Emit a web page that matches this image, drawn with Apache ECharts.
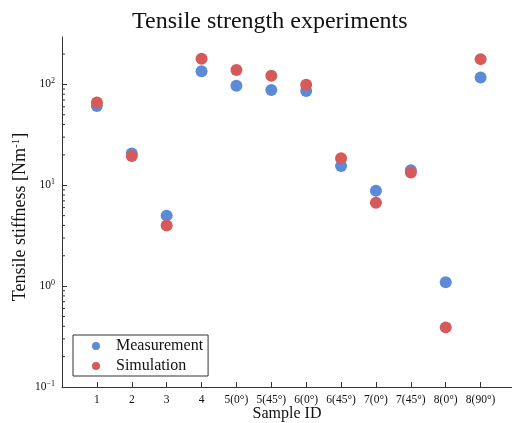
<!DOCTYPE html>
<html>
<head>
<meta charset="utf-8">
<script src="https://cdn.jsdelivr.net/npm/echarts@6/dist/echarts.min.js"></script>
<style>html,body{margin:0;padding:0;background:#fff}#chart{width:512px;height:423px}</style>
</head>
<body>
<div id="chart"></div>
<script>
const samples = ['1', '2', '3', '4', '5(0°)', '5(45°)', '6(0°)', '6(45°)', '7(0°)', '7(45°)', '8(0°)', '8(90°)'];
const measurement = [61, 20.6, 5.0, 135, 97, 88, 86, 15.5, 8.8, 14.1, 1.09, 117];
const simulation = [66, 19.5, 4.0, 180, 139, 122, 99, 18.5, 6.7, 13.4, 0.39, 178];
const yTicks = [0.1, 1, 10, 100];
const yExponents = ['−1', '0', '1', '2'];

const serif = '"Liberation Serif", "DejaVu Serif", serif';
const axisColor = '#333';

// log minor ticks (2..9 per decade), drawn through the y scale
const minorTicks = [];
yTicks.forEach(d => {
    for (let k = 2; k <= 9; k++) {
        if (d * k <= 295) minorTicks.push([0, d * k]);
    }
});

const chart = echarts.init(document.getElementById('chart'));
chart.setOption({
    animation: false,
    backgroundColor: '#fff',
    textStyle: { fontFamily: serif },
    title: {
        text: 'Tensile strength experiments',
        left: 127,
        top: 5,
        textStyle: { fontFamily: serif, fontSize: 24, fontWeight: 'normal', color: '#111' }
    },
    grid: { left: 62, right: 0, top: 37, bottom: 36, outerBoundsMode: 'none' },
    legend: {
        orient: 'vertical',
        left: 73,
        top: 335,
        padding: [3, 5, 2, 19],
        itemWidth: 8,
        itemHeight: 8,
        itemGap: 4,
        borderColor: '#333',
        borderWidth: 1,
        borderRadius: 0,
        backgroundColor: '#fff',
        textStyle: { fontFamily: serif, fontSize: 16, lineHeight: 15, color: '#111', padding: [0, 0, 0, 11] },
        data: [
            { name: 'Measurement', icon: 'circle' },
            { name: 'Simulation', icon: 'circle' }
        ]
    },
    xAxis: {
        type: 'value',
        min: 0,
        max: 12.9,
        interval: 1,
        name: 'Sample ID',
        nameLocation: 'middle',
        nameGap: 19,
        nameMoveOverlap: false,
        nameTextStyle: { fontFamily: serif, fontSize: 16, color: '#111', verticalAlign: 'top' },
        splitLine: { show: false },
        axisLine: { lineStyle: { color: axisColor, width: 1 } },
        axisTick: { inside: true, length: 5, customValues: [1, 2, 3, 4, 5, 6, 7, 8, 9, 10, 11, 12], lineStyle: { color: axisColor } },
        axisLabel: {
            customValues: [1, 2, 3, 4, 5, 6, 7, 8, 9, 10, 11, 12],
            margin: 7,
            fontFamily: serif,
            fontSize: 11.5,
            color: '#111',
            formatter: v => samples[Math.round(v) - 1] || ''
        }
    },
    yAxis: {
        type: 'log',
        min: 0.1,
        max: 295,
        name: 'Tensile stiffness [Nm{s|-1}]',
        nameLocation: 'middle',
        nameGap: 32,
        nameMoveOverlap: false,
        nameTextStyle: {
            fontFamily: serif, fontSize: 18, color: '#111',
            padding: [0, 10, 0, 0],
            rich: { s: { fontFamily: serif, fontSize: 11, color: '#111', padding: [0, 0, 8, 0] } }
        },
        splitLine: { show: false },
        axisLine: { show: true, lineStyle: { color: axisColor, width: 1 } },
        axisTick: { inside: true, length: 5, customValues: yTicks, lineStyle: { color: axisColor } },
        axisLabel: {
            customValues: yTicks,
            margin: 7,
            color: '#111',
            formatter: v => '{b|10}{s|' + yExponents[Math.round(Math.log10(v)) + 1] + '}',
            rich: {
                b: { fontFamily: serif, fontSize: 11.5, color: '#111' },
                s: { fontFamily: serif, fontSize: 8, color: '#111', padding: [0, 0, 6, 0] }
            }
        }
    },
    series: [
        {
            type: 'custom',
            silent: true,
            clip: false,
            data: minorTicks,
            renderItem: (params, api) => {
                const p = api.coord([api.value(0), api.value(1)]);
                return {
                    type: 'line',
                    shape: { x1: p[0], y1: p[1], x2: p[0] + 3, y2: p[1] },
                    style: { stroke: axisColor, lineWidth: 1 }
                };
            }
        },
        {
            name: 'Measurement',
            type: 'scatter',
            symbolSize: 12,
            itemStyle: { color: '#5b8bd6', opacity: 1 },
            data: measurement.map((v, i) => [i + 1, v])
        },
        {
            name: 'Simulation',
            type: 'scatter',
            symbolSize: 12,
            itemStyle: { color: '#d65a5a', opacity: 1 },
            data: simulation.map((v, i) => [i + 1, v])
        }
    ]
});
</script>
</body>
</html>
